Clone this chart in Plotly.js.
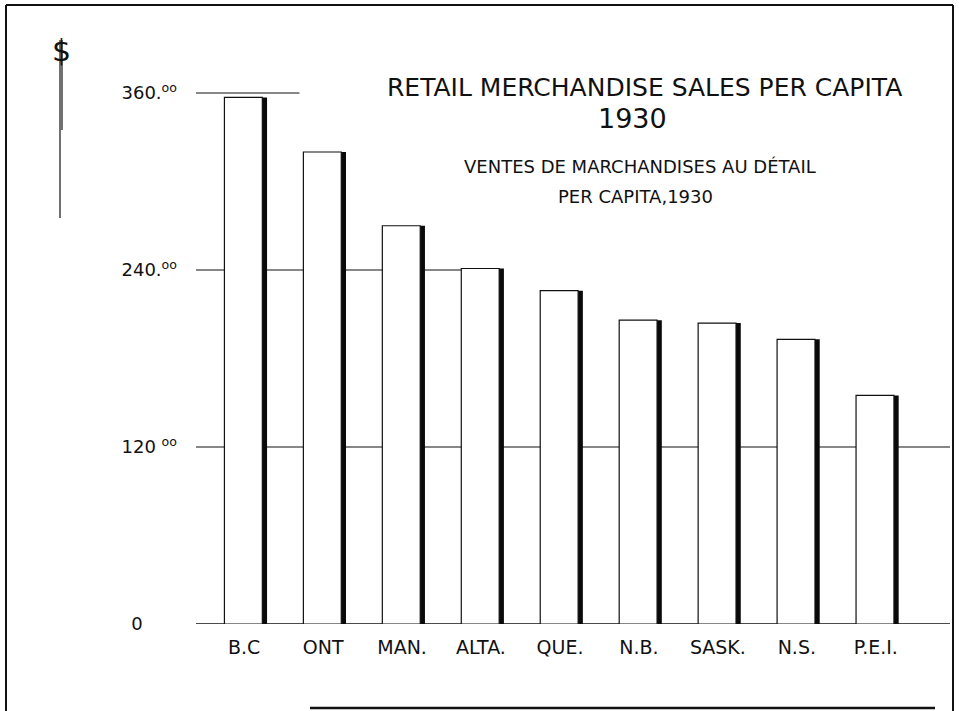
<!DOCTYPE html>
<html><head><meta charset="utf-8">
<script src="https://cdn.plot.ly/plotly-3.0.1.min.js"></script>
<style>html,body{margin:0;padding:0;background:#fff;}#chart{width:959px;height:711px;}</style>
</head><body><div id="chart"></div>
<script>
// Data
const provinces = ["B.C", "ONT", "MAN.", "ALTA.", "QUE.", "N.B.", "SASK.", "N.S.", "P.E.I."];
const salesPerCapita = [357, 320, 270, 241, 226, 206, 204, 193, 155];
const tickValues = [0, 120, 240, 360];
const tickLabels = ["0\u2007\u2007\u2007", "120 <sup>oo</sup>", "240.<sup>oo</sup>", "360.<sup>oo</sup>"];

const FONT = "DejaVu Sans, Liberation Sans, sans-serif";
const ML = 196, MR = 9, MT = 34, MB = 87, W = 959, H = 711;
const PW = W - ML - MR, PH = H - MT - MB;
const px = x => (x - ML) / PW;
const py = y => (H - MB - y) / PH;

function pline(x0, y0, x1, y1, w) {
  return {type: "line", xref: "paper", yref: "paper", x0: px(x0), y0: py(y0), x1: px(x1), y1: py(y1),
          line: {color: "#111", width: w || 2}, layer: "above"};
}
function gline(yv, xa, xb, w) {
  return {type: "line", xref: "x", yref: "y", x0: xa, x1: xb, y0: yv, y1: yv,
          line: {color: "#111", width: w || 1.1}, layer: "below"};
}

const shadow = {
  type: "bar", x: provinces, y: salesPerCapita, base: 0,
  width: 0.065, offset: 0.225,
  marker: {color: "#0a0a0a", line: {width: 0}},
  hoverinfo: "skip", showlegend: false
};
const bars = {
  type: "bar", x: provinces, y: salesPerCapita, base: 0,
  width: 0.48, offset: -0.25,
  marker: {color: "#ffffff", line: {color: "#111", width: 1.2}},
  showlegend: false
};

const layout = {
  width: W, height: H,
  margin: {l: ML, r: MR, t: MT, b: MB},
  paper_bgcolor: "#fff", plot_bgcolor: "rgba(0,0,0,0)",
  barmode: "overlay",
  font: {family: FONT, color: "#111"},
  xaxis: {
    type: "category", range: [-0.61, 8.94],
    showgrid: false, zeroline: false, showline: false, ticks: "",
    tickfont: {family: FONT, size: 19, color: "#111"},
    ticklabelstandoff: 10, fixedrange: true
  },
  yaxis: {
    range: [0, 400], showgrid: false, zeroline: false, showline: false, ticks: "",
    tickmode: "array", tickvals: tickValues, ticktext: tickLabels,
    tickfont: {family: FONT, size: 18, color: "#111"},
    ticklabelstandoff: 18, fixedrange: true
  },
  shapes: [
    gline(0, -0.61, 8.94, 1.6),
    gline(120, -0.61, 8.94, 1.1),
    gline(240, -0.61, 3, 1.1),
    gline(360, -0.61, 0.7, 1.1),
    pline(6, 5, 953, 5, 2),
    pline(6, 5, 6, 711, 2),
    pline(953, 5, 953, 711, 2),
    pline(310, 708, 935, 708, 2.5),
    pline(60, 40, 60, 218, 1.2),
    pline(62, 40, 62, 130, 1.2)
  ],
  annotations: [
    {text: "RETAIL MERCHANDISE SALES PER CAPITA", xref: "paper", yref: "paper", x: px(644), y: py(87),
     showarrow: false, font: {family: FONT, size: 25, color: "#111"}, xanchor: "center", yanchor: "middle"},
    {text: "1930", xref: "paper", yref: "paper", x: px(632), y: py(119),
     showarrow: false, font: {family: FONT, size: 27, color: "#111"}, xanchor: "center", yanchor: "middle"},
    {text: "VENTES DE MARCHANDISES AU DÉTAIL", xref: "paper", yref: "paper", x: px(640), y: py(166),
     showarrow: false, font: {family: FONT, size: 18, color: "#111"}, xanchor: "center", yanchor: "middle"},
    {text: "PER CAPITA,1930", xref: "paper", yref: "paper", x: px(635), y: py(196),
     showarrow: false, font: {family: FONT, size: 18, color: "#111"}, xanchor: "center", yanchor: "middle"},
    {text: "$", xref: "paper", yref: "paper", x: px(61), y: py(50),
     showarrow: false, font: {family: FONT, size: 30, color: "#111"}, xanchor: "center", yanchor: "middle"}
  ]
};

Plotly.newPlot("chart", [shadow, bars], layout, {displayModeBar: false, staticPlot: true});
</script></body></html>
